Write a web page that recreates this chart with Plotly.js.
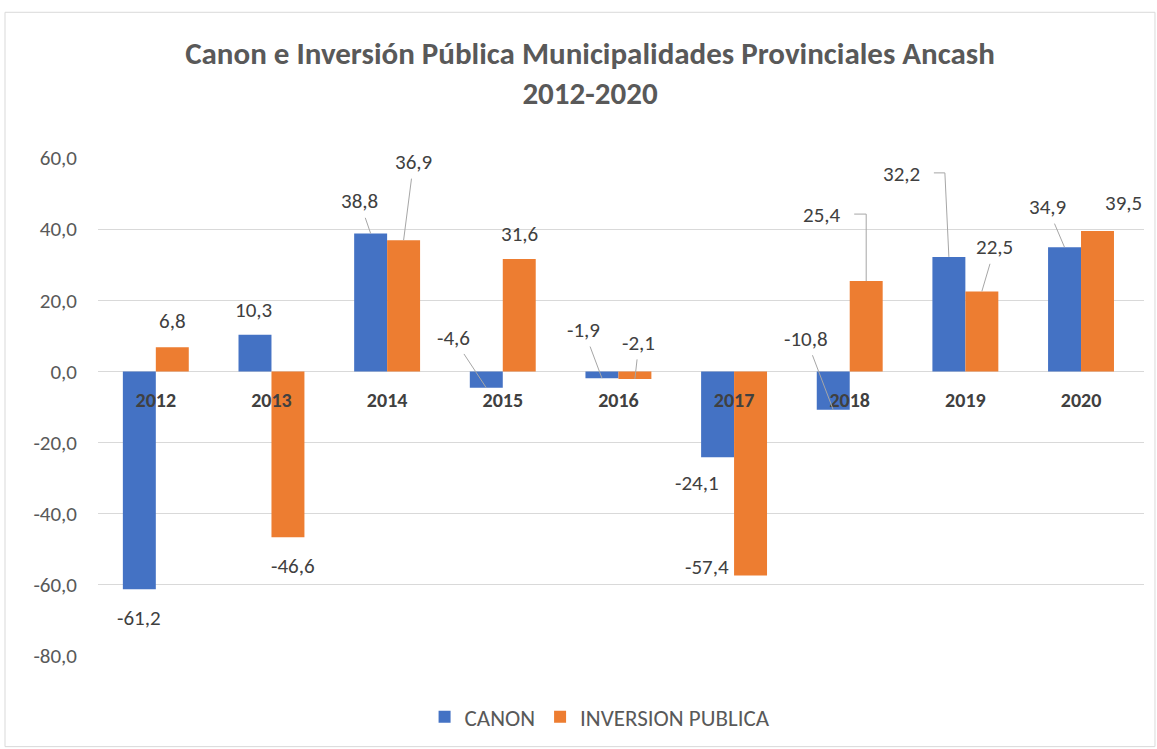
<!DOCTYPE html>
<html>
<head>
<meta charset="utf-8">
<script src="https://cdn.plot.ly/plotly-3.0.1.min.js"></script>
<style>
html,body{margin:0;padding:0;background:#fff;}
#chart{width:1157px;height:749px;}
</style>
</head>
<body>
<div id="chart"></div>
<script>
// ---- data ----
const years = ['2012','2013','2014','2015','2016','2017','2018','2019','2020'];
const canon = [-61.2, 10.3, 38.8, -4.6, -1.9, -24.1, -10.8, 32.2, 34.9];
const inversion = [6.8, -46.6, 36.9, 31.6, -2.1, -57.4, 25.4, 22.5, 39.5];
const yTickVals = [-80, -60, -40, -20, 0, 20, 40, 60];
const seriesNames = ['CANON', 'INVERSION PUBLICA'];

// ---- label placement (pixel offsets: dx right, dy up) and leader style ----
const canonDx = [0, -1, -11, -33, -18, -21, -27, -47, -17];
const canonDy = [-29, 25, 32, 50, 48, -26, 71, 83, 40];
const canonLeader = ['none','none','line','line','line','none','line','elbow','line'];
const invDx = [0, 5, 10, 0, 4, -44, -44, 13, 26];
const invDy = [26, -29, 78, 25, 36, 9, 66, 44, 28];
const invLeader = ['none','none','line','none','line','none','elbow','line','none'];
const elbowPaths = {
  'c7': 'M0,0 L-4,84 L-15,84',
  'i6': 'M0,0 L0,67 L-12,67'
};

const BLUE = '#4472C4', ORANGE = '#ED7D31';
const FONT = 'Carlito, Lato, "Open Sans", sans-serif';
const bargap = 0.43;
const half = (1 - bargap) / 4; // bar centre offset in category units

const fmt = v => v.toFixed(1).replace('.', ',');

const traces = [
  {type:'bar', name:seriesNames[0], x:years, y:canon, marker:{color:BLUE}, hoverinfo:'none'},
  {type:'bar', name:seriesNames[1], x:years, y:inversion, marker:{color:ORANGE}, hoverinfo:'none'}
];

const annotations = [];
const shapes = [];
function addLabels(vals, dx, dy, leader, off, key){
  vals.forEach((v, i) => {
    const base = {
      xref:'x', yref:'y', x: i + off, y: v, text: fmt(v),
      font:{family:FONT, size:21, color:'#404040'}
    };
    if (leader[i] === 'line') {
      annotations.push(Object.assign(base, {
        showarrow:true, ax:dx[i], ay:-dy[i], arrowhead:0, arrowwidth:1,
        arrowcolor:'#a6a6a6', standoff:0, startstandoff:2
      }));
    } else {
      annotations.push(Object.assign(base, {showarrow:false, xshift:dx[i], yshift:dy[i]}));
      if (leader[i] === 'elbow') {
        shapes.push({
          type:'path', xref:'x', yref:'y', xsizemode:'pixel', ysizemode:'pixel',
          xanchor: i + off, yanchor: v, path: elbowPaths[key + i],
          line:{color:'#a6a6a6', width:1}, layer:'above'
        });
      }
    }
  });
}
addLabels(canon, canonDx, canonDy, canonLeader, -half, 'c');
addLabels(inversion, invDx, invDy, invLeader, half, 'i');

// chart border
shapes.push({type:'rect', xref:'paper', yref:'paper', x0:-0.0889, x1:1.0105, y0:-0.182, y1:1.2926,
  line:{color:'#d9d9d9', width:1}, fillcolor:'rgba(0,0,0,0)', layer:'below'});

const yMin = -80, yMax = 60;
const layout = {
  width:1157, height:749,
  paper_bgcolor:'#fff', plot_bgcolor:'#fff',
  margin:{l:98, r:13, t:158, b:92},
  separators:',.',
  barmode:'group', bargap:bargap, bargroupgap:0,
  title:{
    text:'Canon e Inversión Pública Municipalidades Provinciales Ancash<br>2012-2020',
    font:{family:FONT, size:31, color:'#595959', weight:'bold'},
    x:590/1157, xanchor:'center', xref:'container',
    y:1 - 64/749, yref:'container', yanchor:'middle'
  },
  xaxis:{
    type:'category', anchor:'free', position:(0 - yMin)/(yMax - yMin),
    showgrid:false, showline:false, zeroline:false, ticks:'',
    ticklabelstandoff:15,
    tickfont:{family:FONT, size:20, color:'#404040', weight:'bold'}
  },
  yaxis:{
    range:[yMin, yMax], tickvals:yTickVals, ticktext:yTickVals.map(fmt),
    showgrid:true, gridcolor:'#d9d9d9', gridwidth:1, zeroline:false, showline:false,
    ticks:'', ticklabelstandoff:20,
    tickfont:{family:FONT, size:21, color:'#595959'}
  },
  legend:{
    orientation:'h', x:0.48, xanchor:'center', y:-0.12, yanchor:'middle',
    font:{family:FONT, size:23, color:'#595959'}, itemclick:false
  },
  annotations:annotations,
  shapes:shapes
};

Plotly.newPlot('chart', traces, layout, {displayModeBar:false, staticPlot:true});
</script>
</body>
</html>
